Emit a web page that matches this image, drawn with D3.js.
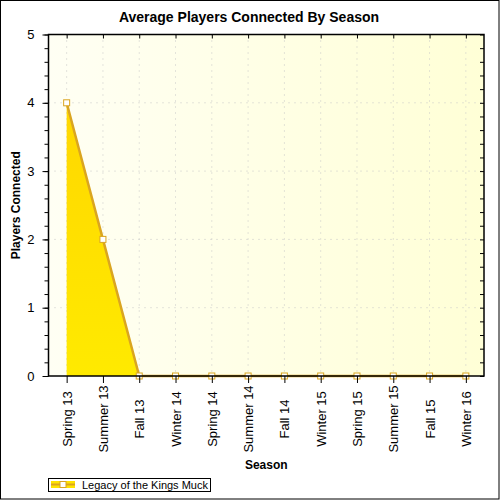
<!DOCTYPE html>
<html>
<head>
<meta charset="utf-8">
<script src="https://cdn.jsdelivr.net/npm/d3@7"></script>
<style>
  body { margin: 0; background: #fff; }
  text { font-family: Arial, "Liberation Sans", sans-serif; }
</style>
</head>
<body>
<div id="chart"></div>
<script>
var seasons = ["Spring 13", "Summer 13", "Fall 13", "Winter 14", "Spring 14", "Summer 14",
    "Fall 14", "Winter 15", "Spring 15", "Summer 15", "Fall 15", "Winter 16"];
var players = [4, 2, 0, 0, 0, 0, 0, 0, 0, 0, 0, 0];
var yTicks = [0, 1, 2, 3, 4, 5];
var seriesName = "Legacy of the Kings Muck";

var W = 500, H = 500;
var margin = { top: 34.5, right: 16, bottom: 124, left: 48.5 };
var width = W - margin.left - margin.right,
    height = H - margin.top - margin.bottom;

var svg = d3.select("#chart").append("svg")
    .attr("width", W).attr("height", H);

var defs = svg.append("defs");
var bg = defs.append("linearGradient").attr("id", "bg")
    .attr("x1", "0%").attr("y1", "0%").attr("x2", "100%").attr("y2", "0%");
bg.append("stop").attr("offset", "0%").attr("stop-color", "#fffff4");
bg.append("stop").attr("offset", "100%").attr("stop-color", "#ffffd6");
var fillGrad = defs.append("linearGradient").attr("id", "fillGrad")
    .attr("x1", "0%").attr("y1", "0%").attr("x2", "0%").attr("y2", "100%");
fillGrad.append("stop").attr("offset", "0%").attr("stop-color", "#ffd700");
fillGrad.append("stop").attr("offset", "100%").attr("stop-color", "#ffea00");

// outer frame
svg.append("rect").attr("x", 0.5).attr("y", 0.5).attr("width", W - 1.5).attr("height", H - 1.5)
    .attr("fill", "#fff").attr("stroke", "#000");

svg.append("text").attr("x", 249).attr("y", 22).attr("text-anchor", "middle")
    .attr("font-size", 14).attr("font-weight", "bold").text("Average Players Connected By Season");

var g = svg.append("g").attr("transform", "translate(" + margin.left + "," + margin.top + ")");

var x = d3.scalePoint().domain(seasons).range([0, width]).padding(0.5);
var y = d3.scaleLinear().domain([0, 5]).range([height, 0]);

g.append("rect").attr("width", width).attr("height", height).attr("fill", "url(#bg)");

// grid
g.append("g").selectAll("line").data(seasons).enter().append("line")
    .attr("x1", function (d) { return x(d); }).attr("x2", function (d) { return x(d); })
    .attr("y1", 0).attr("y2", height)
    .attr("stroke", "#c8c8c8").attr("stroke-dasharray", "1,5");
g.append("g").selectAll("line").data(yTicks.slice(1, -1)).enter().append("line")
    .attr("y1", function (d) { return y(d); }).attr("y2", function (d) { return y(d); })
    .attr("x1", 0).attr("x2", width)
    .attr("stroke", "#c8c8c8").attr("stroke-dasharray", "1,5");

// area + line
var area = d3.area().x(function (d, i) { return x(seasons[i]); })
    .y0(y(0)).y1(function (d) { return y(d); });
var line = d3.line().x(function (d, i) { return x(seasons[i]); })
    .y(function (d) { return y(d); });
g.append("path").datum(players).attr("d", area).attr("fill", "url(#fillGrad)");
g.append("path").datum(players).attr("d", line).attr("fill", "none")
    .attr("stroke", "#daa520").attr("stroke-width", 2.5);

g.selectAll(".pt").data(players).enter().append("rect")
    .attr("x", function (d, i) { return x(seasons[i]) - 3; })
    .attr("y", function (d) { return y(d) - 3; })
    .attr("width", 6).attr("height", 6)
    .attr("fill", "#fff").attr("stroke", "#daa520").attr("stroke-width", 1);

// axes
var yAxis = g.append("g").call(d3.axisLeft(y).tickValues(yTicks).tickFormat(d3.format("d")).tickSize(6).tickPadding(8));
yAxis.select(".domain").remove();
yAxis.selectAll("text").attr("font-size", 13).attr("fill", "#000").style("font-family", "Arial, 'Liberation Sans', sans-serif");
g.append("g").call(d3.axisLeft(y).ticks(25).tickSize(4).tickFormat(""))
    .select(".domain").remove();
g.append("g").attr("transform", "translate(" + width + ",0)")
    .call(d3.axisLeft(y).ticks(25).tickSize(4).tickFormat(""))
    .select(".domain").remove();
g.append("g").call(d3.axisBottom(x).tickSize(4).tickFormat(""))
    .select(".domain").remove();

var xAxis = g.append("g").attr("transform", "translate(0," + height + ")")
    .call(d3.axisBottom(x).tickSize(7).tickPadding(4));
xAxis.select(".domain").remove();
xAxis.selectAll("text").attr("font-size", 13).attr("fill", "#000")
    .style("font-family", "Arial, 'Liberation Sans', sans-serif")
    .attr("transform", "rotate(-90)").attr("text-anchor", "middle")
    .attr("x", -43).attr("y", 0).attr("dy", "0.35em");

g.append("rect").attr("width", width).attr("height", height)
    .attr("fill", "none").attr("stroke", "#000").attr("stroke-width", 1.5);

svg.append("text").attr("x", margin.left + width / 2).attr("y", 469).attr("text-anchor", "middle")
    .attr("font-size", 12).attr("font-weight", "bold").text("Season");
svg.append("text").attr("transform", "translate(20," + (margin.top + height / 2) + ") rotate(-90)")
    .attr("text-anchor", "middle").attr("font-size", 12).attr("font-weight", "bold")
    .text("Players Connected");

// legend
var lg = svg.append("g");
lg.append("rect").attr("x", 48.5).attr("y", 478.5).attr("width", 162).attr("height", 13)
    .attr("fill", "#fff").attr("stroke", "#000");
lg.append("rect").attr("x", 51).attr("y", 481).attr("width", 24).attr("height", 7).attr("fill", "#ffe400");
lg.append("line").attr("x1", 51).attr("x2", 75).attr("y1", 484.5).attr("y2", 484.5)
    .attr("stroke", "#daa520").attr("stroke-width", 2);
lg.append("rect").attr("x", 60).attr("y", 481.5).attr("width", 6).attr("height", 6)
    .attr("fill", "#fff").attr("stroke", "#daa520");
lg.append("text").attr("x", 82).attr("y", 488.5).attr("font-size", 11).text(seriesName);
</script>
</body>
</html>
